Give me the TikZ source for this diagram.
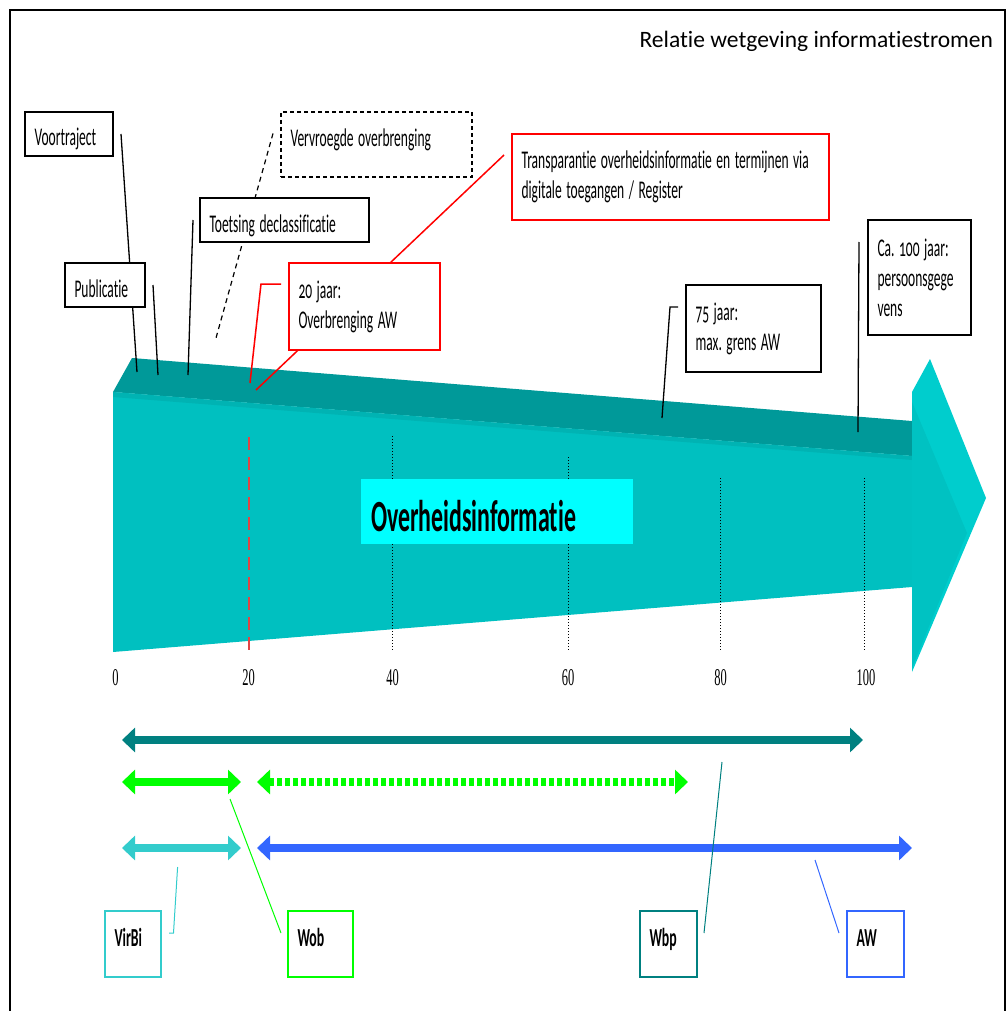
\documentclass[tikz,border=0pt]{standalone}
\usepackage{fontspec}
\usepackage{graphicx}
\usetikzlibrary{arrows.meta,calc}
\newfontfamily\boxfont[Numbers=OldStyle,RawFeature={-liga;-clig;-calt;-dlig}]{Carlito}
\newfontfamily\titlefont[RawFeature={-liga;-clig;-calt;-dlig}]{Carlito}
\newfontfamily\numfont{Liberation Serif}
\newcommand\nx[1]{\scalebox{0.53}[1]{#1}}
\newcommand\nb[1]{\scalebox{0.537}[1]{#1}}
\newcommand\nn[1]{\scalebox{0.52}[1]{#1}}
\frenchspacing
\definecolor{topface}{HTML}{009999}
\definecolor{frontface}{HTML}{00C0C0}
\definecolor{stripc}{HTML}{00B3B3}
\definecolor{headback}{HTML}{00CDCD}
\definecolor{headfront}{HTML}{00C2C2}
\definecolor{tealdark}{HTML}{008080}
\definecolor{greenb}{HTML}{00FF00}
\definecolor{turq}{HTML}{33CCCC}
\definecolor{blueb}{HTML}{3366FF}
\definecolor{cyanbox}{HTML}{00FFFF}
\definecolor{boxred}{HTML}{FF0000}
\definecolor{dashred}{HTML}{E04545}
\pgfdeclarelayer{back}
\pgfdeclarelayer{mid}
\pgfsetlayers{back,mid,main}
\begin{document}
\frenchspacing
\begin{tikzpicture}[x=1pt,y=-1pt,
  every node/.style={inner ysep=0pt,outer sep=0pt},
  tb/.style={draw=black,line width=1.6pt,fill=white,anchor=north west,inner xsep=9.5pt,align=left,font=\boxfont\fontsize{25.5}{30}\selectfont},
  redb/.style={tb,draw=boxred},
  oneline/.style={text height=24pt,text depth=0pt},
  lb/.style={fill=white,line width=1.8pt,anchor=north west,inner xsep=9.5pt,align=left,minimum height=66pt,text height=5.4pt,text depth=0pt,font=\boxfont\bfseries\fontsize{26}{30}\selectfont},
  conn/.style={line width=1.3pt},
  bar/.style={line width=8pt,{Triangle[width=24pt,length=13pt]}-{Triangle[width=24pt,length=13pt]}},
  tick/.style={font=\numfont\fontsize{24}{24}\selectfont,anchor=base}
]
\useasboundingbox (0,0) rectangle (1008,1011);

% frame
\draw[line width=2.2pt] (10,1013) -- (10,10) -- (1005,10) -- (1005,1013);

% title
\node[anchor=base east,inner sep=0pt,font=\titlefont\fontsize{23.5}{28}\selectfont] (title) at (993,47.3) {Relatie wetgeving informatiestromen};

% big arrow body
\begin{pgfonlayer}{back}
\fill[topface] (113,392) -- (132,358) -- (912,421) -- (912,456) -- cycle;
\fill[frontface] (113,392) -- (912,456) -- (912,587) -- (113,652) -- cycle;
\fill[stripc] (113,392) -- (912,456) -- (912,460) -- (113,397) -- cycle;
\fill[headback] (912,392) -- (930,359) -- (986,498) -- (912,672) -- cycle;
\fill[headfront] (912,402) -- (967,533) -- (912,668) -- cycle;
% grid lines
\draw[dashred,line width=1.2pt,dash pattern=on 13pt off 7pt] (249,437) -- (249,652);
\foreach \x/\yt in {392.5/436,568/457,720.5/478,864/478}
  \draw[black,line width=0.8pt,dash pattern=on 1pt off 2pt] (\x,\yt) -- (\x,651);
\end{pgfonlayer}

% central label
\node[fill=cyanbox,anchor=north west,minimum width=272pt,minimum height=65pt,inner xsep=10pt,text width=252pt,align=left,text height=40pt,text depth=0pt,font=\boxfont\bfseries\fontsize{44.5}{50}\selectfont] (oi) at (361,479) {\nb{Overheidsinformatie}};

% upper boxes
\node[tb,oneline,minimum width=88pt,minimum height=44pt,text width=69pt] (vt) at (25,112) {\nx{Voortraject}};
\node[tb,oneline,minimum width=80pt,minimum height=44pt,text width=61pt] (pub) at (65,263) {\nx{Publicatie}};
\node[tb,oneline,minimum width=169pt,minimum height=44pt,text width=150pt] (toets) at (200,198) {\nx{Toetsing declassificatie}};
\node[tb,dash pattern=on 4pt off 3pt,minimum width=191pt,minimum height=65pt,text width=172pt,text height=3.6pt,text depth=0pt] (vervr) at (281,112) {\nx{Vervroegde overbrenging}};
\node[redb,minimum width=151pt,minimum height=87pt,text width=132pt] (twenty) at (289,263) {\nx{20 jaar:}\\\nx{Overbrenging AW}};
\node[redb,minimum width=317pt,minimum height=86pt,text width=298pt] (transp) at (512,134) {\nx{Transparantie overheidsinformatie en termijnen via}\\\nx{digitale toegangen / Register}};
\node[tb,minimum width=135pt,minimum height=87pt,text width=116pt] (sevfive) at (686,285) {\nx{75 jaar:}\\\nx{max. grens AW}};
\node[tb,minimum width=103pt,minimum height=115pt,text width=84pt] (ca) at (868,220) {\nx{Ca. 100 jaar:}\\\nx{persoonsgege}\\\nx{vens}};

% free ends of upper connectors
\coordinate (vtE) at (137,372);
\coordinate (pubE) at (158,375);
\coordinate (toetsE) at (188,375);
\coordinate (vervrE) at (216,338);
\coordinate (twK) at (261,284);
\coordinate (twE) at (250,383);
\coordinate (trE) at (256,390);
\coordinate (svK) at (670,307);
\coordinate (svE) at (662,418);
\coordinate (caE) at (858,432);

\begin{pgfonlayer}{mid}
\draw[conn] ([xshift=8pt]vt.east) -- (vtE);
\draw[conn] ([xshift=8pt]pub.east) -- (pubE);
\draw[conn] ([xshift=-7pt]toets.west) -- (toetsE);
\draw[conn,line width=1.2pt,dash pattern=on 5pt off 4pt] ([xshift=-8pt,yshift=11pt]vervr.west) -- (vervrE);
\draw[conn,boxred,line width=1.5pt] ([xshift=-8pt,yshift=22.5pt]twenty.west) -- (twK) -- (twE);
\draw[conn,boxred,line width=1.5pt] ([xshift=-8pt,yshift=22pt]transp.west) -- (trE);
\draw[conn] ([xshift=-8pt,yshift=21.5pt]sevfive.west) -- (svK) -- (svE);
\draw[conn] ([xshift=-9pt,yshift=35.5pt]ca.west) -- (caE);
\end{pgfonlayer}

% axis numbers
\node[tick] (t0) at (115.5,685) {\nn{0}};
\node[tick] (t20) at (248.7,685) {\nn{20}};
\node[tick] (t40) at (392.5,685) {\nn{40}};
\node[tick] (t60) at (568,685) {\nn{60}};
\node[tick] (t80) at (720.5,685) {\nn{80}};
\node[tick] (t100) at (866,685) {\nn{100}};

% range arrows
\coordinate (r1a) at (122,740); \coordinate (r1b) at (863,740);
\coordinate (r2a) at (122,782); \coordinate (r2b) at (241,782);
\coordinate (r3a) at (257,782); \coordinate (r3b) at (688,782);
\coordinate (r4a) at (122,848); \coordinate (r4b) at (241,848);
\coordinate (r5a) at (257,848); \coordinate (r5b) at (912,848);
\begin{pgfonlayer}{back}
\draw[bar,draw=tealdark] (r1a) -- (r1b);
\draw[bar,draw=greenb] (r2a) -- (r2b);
\draw[bar,draw=greenb,dash pattern=on 4.5pt off 3.5pt] (r3a) -- (r3b);
\draw[bar,draw=turq] (r4a) -- (r4b);
\draw[bar,draw=blueb] (r5a) -- (r5b);
\end{pgfonlayer}

% bottom boxes
\node[lb,draw=turq,minimum width=56pt,text width=37pt] (virbi) at (105,911) {\nx{VirBi}};
\node[lb,draw=greenb,minimum width=65pt,text width=46pt] (wob) at (288,911) {\nx{Wob}};
\node[lb,draw=tealdark,minimum width=57pt,text width=38pt] (wbp) at (640,911) {\nx{Wbp}};
\node[lb,draw=blueb,minimum width=57pt,text width=38pt] (aw) at (847,911) {\nx{AW}};

\coordinate (virS) at (177.6,867);
\coordinate (virK) at (173.5,933);
\coordinate (wobS) at (230,799);
\coordinate (wbpS) at (722,762);
\coordinate (awS) at (815,860);
\begin{pgfonlayer}{mid}
\draw[turq,line width=1pt] (virS) -- (virK) -- ([xshift=8pt,yshift=11pt]virbi.east);
\draw[greenb,line width=1pt] (wobS) -- ([xshift=-7pt,yshift=11pt]wob.west);
\draw[tealdark,line width=1pt] (wbpS) -- ([xshift=7pt,yshift=11pt]wbp.east);
\draw[blueb,line width=1pt] (awS) -- ([xshift=-8pt,yshift=11pt]aw.west);
\end{pgfonlayer}
\end{tikzpicture}
\end{document}
